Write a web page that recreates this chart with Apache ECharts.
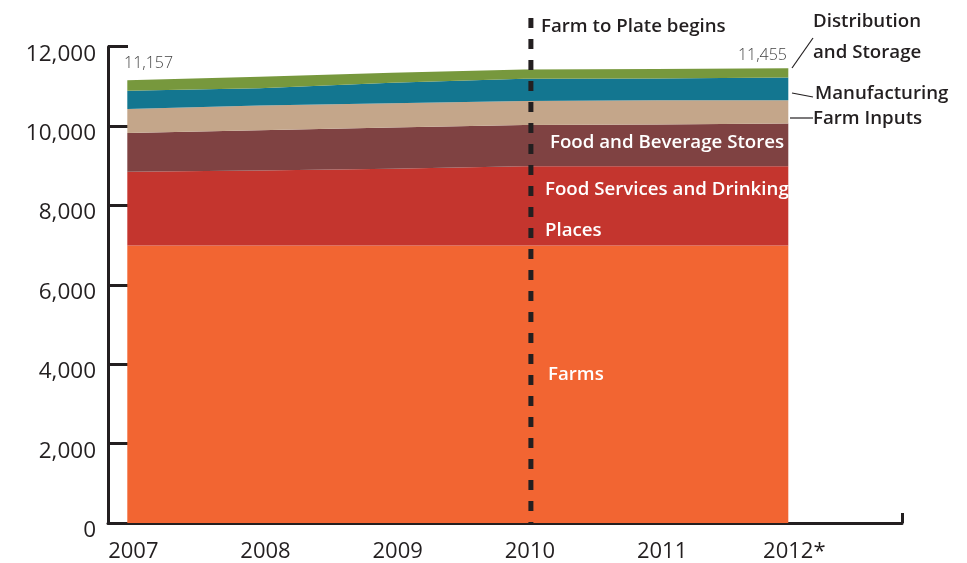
<!DOCTYPE html>
<html><head><meta charset="utf-8">
<script src="https://cdn.jsdelivr.net/npm/echarts@6/dist/echarts.min.js"></script>
<style>html,body{margin:0;padding:0;background:#fff}#c{width:967px;height:563px}</style>
</head><body><div id="c"></div>
<script>
const years = [2007, 2008, 2009, 2010, 2011, 2012];
const yearLabels = ['2007', '2008', '2009', '2010', '2011', '2012*'];
const farms = [6990, 6990, 6990, 6990, 6990, 6990];
const foodServices = [1860, 1890, 1933, 2000, 2000, 2000];
const foodBevStores = [975, 1018, 1043, 1040, 1050, 1075];
const farmInputs = [608, 618, 608, 600, 608, 583];
const manufacturing = [458, 440, 518, 560, 550, 574];
const distribution = [266, 285, 250, 233, 243, 233];
const markerYear = 2010;
const markerLabel = 'Farm to Plate begins';

const layers = [
  { name: 'Farms', data: farms, color: '#F26532' },
  { name: 'Food Services and Drinking Places', data: foodServices, color: '#C4352E' },
  { name: 'Food and Beverage Stores', data: foodBevStores, color: '#7F4242' },
  { name: 'Farm Inputs', data: farmInputs, color: '#C4A68A' },
  { name: 'Manufacturing', data: manufacturing, color: '#137690' },
  { name: 'Distribution and Storage', data: distribution, color: '#77983D' }
];
const totals = years.map((y, i) => layers.reduce((s, l) => s + l.data[i], 0));
const fmt = v => v.toLocaleString('en-US');

const INK = '#231f20';
const FONT = "'Open Sans', 'Noto Sans', sans-serif";
const xMin = 2006.854, xMax = 2012.86;
const NUDGE = 6; // reference draws year labels and the marker slightly right of the data points

const chart = echarts.init(document.getElementById('c'));
chart.setOption({
  animation: false,
  backgroundColor: '#fff',
  grid: { left: 108, right: 65, top: 46.7, bottom: 37, containLabel: false },
  xAxis: {
    type: 'value', min: xMin, max: xMax,
    splitLine: { show: false },
    axisLine: { show: true, lineStyle: { color: INK, width: 3 } },
    axisTick: { show: true, customValues: [xMax], inside: true, length: 10, lineStyle: { color: INK, width: 3 } },
    axisLabel: {
      customValues: years,
      formatter: v => yearLabels[years.indexOf(v)],
      color: INK, fontSize: 22, fontFamily: FONT, margin: 18, padding: [0, 0, 0, NUDGE * 2]
    }
  },
  yAxis: {
    type: 'value', min: 0, max: 12000, interval: 2000,
    splitLine: { show: false },
    axisLine: { show: true, lineStyle: { color: INK, width: 3 } },
    axisTick: { show: true, inside: true, length: 20, lineStyle: { color: INK, width: 3 } },
    axisLabel: { formatter: v => fmt(v), color: INK, fontSize: 22.5, fontFamily: FONT, margin: 12,
      verticalAlign: 'top', lineHeight: 15 }
  },
  series: layers.map(l => ({
    name: l.name, type: 'line', stack: 'total', symbol: 'none', silent: true,
    encode: { x: 1, y: 0 },
    lineStyle: { width: 0 },
    areaStyle: { color: l.color, opacity: 1 },
    data: years.map((y, i) => [l.data[i], y])
  }))
});

const mx = chart.convertToPixel({ xAxisIndex: 0 }, markerYear) + NUDGE + 1;
const y0 = chart.convertToPixel({ yAxisIndex: 0 }, 0);
const txt = (text, x, y, o) => Object.assign({
  type: 'text', z: 100,
  style: Object.assign({ text, x, y, fill: INK, font: `600 18.7px ${FONT}`, textAlign: 'left', textVerticalAlign: 'middle' }, o || {})
});
const ln = (x1, y1, x2, y2) => ({ type: 'line', z: 100, shape: { x1, y1, x2, y2 }, style: { stroke: INK, lineWidth: 1.2 } });
const WHITE = { fill: '#fff' };
const NUM = { font: `300 16px ${FONT}`, fill: '#444' };
chart.setOption({
  graphic: [
    { type: 'line', z: 90, shape: { x1: mx, y1: 18, x2: mx, y2: y0 }, style: { stroke: INK, lineWidth: 5, lineDash: [10, 11] } },
    txt(markerLabel, 541, 27),
    txt(fmt(totals[0]), 124, 63, NUM),
    txt(fmt(totals[5]), 787, 55, Object.assign({ textAlign: 'right' }, NUM)),
    txt('Distribution', 813, 22),
    txt('and Storage', 813, 53),
    ln(792, 68, 813, 38),
    txt('Manufacturing', 815, 94),
    ln(792, 93, 813, 97),
    txt('Farm Inputs', 813, 119),
    ln(790, 118, 813, 118),
    txt('Food and Beverage Stores', 550, 143, WHITE),
    txt('Food Services and Drinking', 545, 190, WHITE),
    txt('Places', 545, 231, WHITE),
    txt('Farms', 548, 375, WHITE)
  ]
});
</script></body></html>
